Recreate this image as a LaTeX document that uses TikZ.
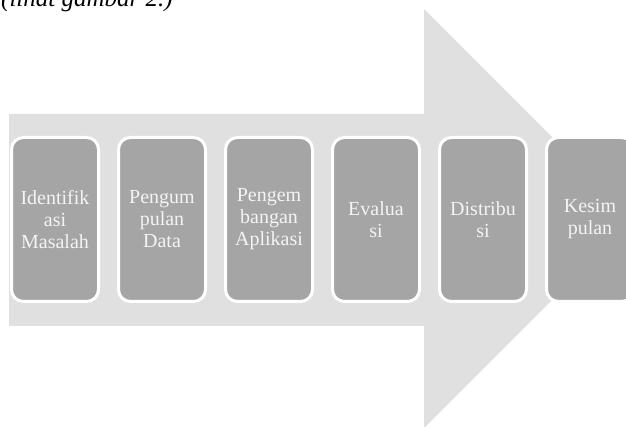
\documentclass[tikz,border=0pt]{standalone}
\usepackage{fontspec}
\setmainfont{Liberation Serif}
\usetikzlibrary{positioning}
\definecolor{arrowgray}{HTML}{E0E0E0}
\definecolor{boxgray}{HTML}{A5A5A5}
\definecolor{textwhite}{HTML}{F4F4F4}

\begin{document}
\begin{tikzpicture}[x=1pt,y=-1pt,node distance=107pt,
    step box/.style={rectangle,rounded corners=12pt,fill=boxgray,draw=white,line width=3pt,
      minimum width=87pt,minimum height=164pt,text width=85pt,align=center,inner sep=0pt,
      text=textwhite,font=\fontsize{20}{22}\selectfont}]

            \useasboundingbox (0,0) rectangle (626,427);
            \clip (0,0) rectangle (626,427);

            % caption line, cut at the top
            \node[anchor=base west,inner sep=0pt,font=\fontsize{25}{27}\selectfont\itshape] (cap) at (1,7) {(lihat gambar 2.)};

            % big arrow behind the steps
            \fill[arrowgray] (9,114) -- (424,114) -- (424,9) -- (633.5,218.5) -- (424,428) -- (424,326) -- (9,326) -- cycle;

            \node[step box]  (s1) at (55,219.5) {Identifik\\asi\\Masalah};
            \node[step box]  (s2) [right of = s1] {Pengum\\pulan\\Data};
            \node[step box]  (s3) [right of = s2] {Pengem\\bangan\\Aplikasi};
            \node[step box]  (s4) [right of = s3] {Evalua\\si};
            \node[step box]  (s5) [right of = s4] {Distribu\\si};
            \node[step box]  (s6) [right of = s5] {Kesim\\pulan};

        \end{tikzpicture}
\end{document}
